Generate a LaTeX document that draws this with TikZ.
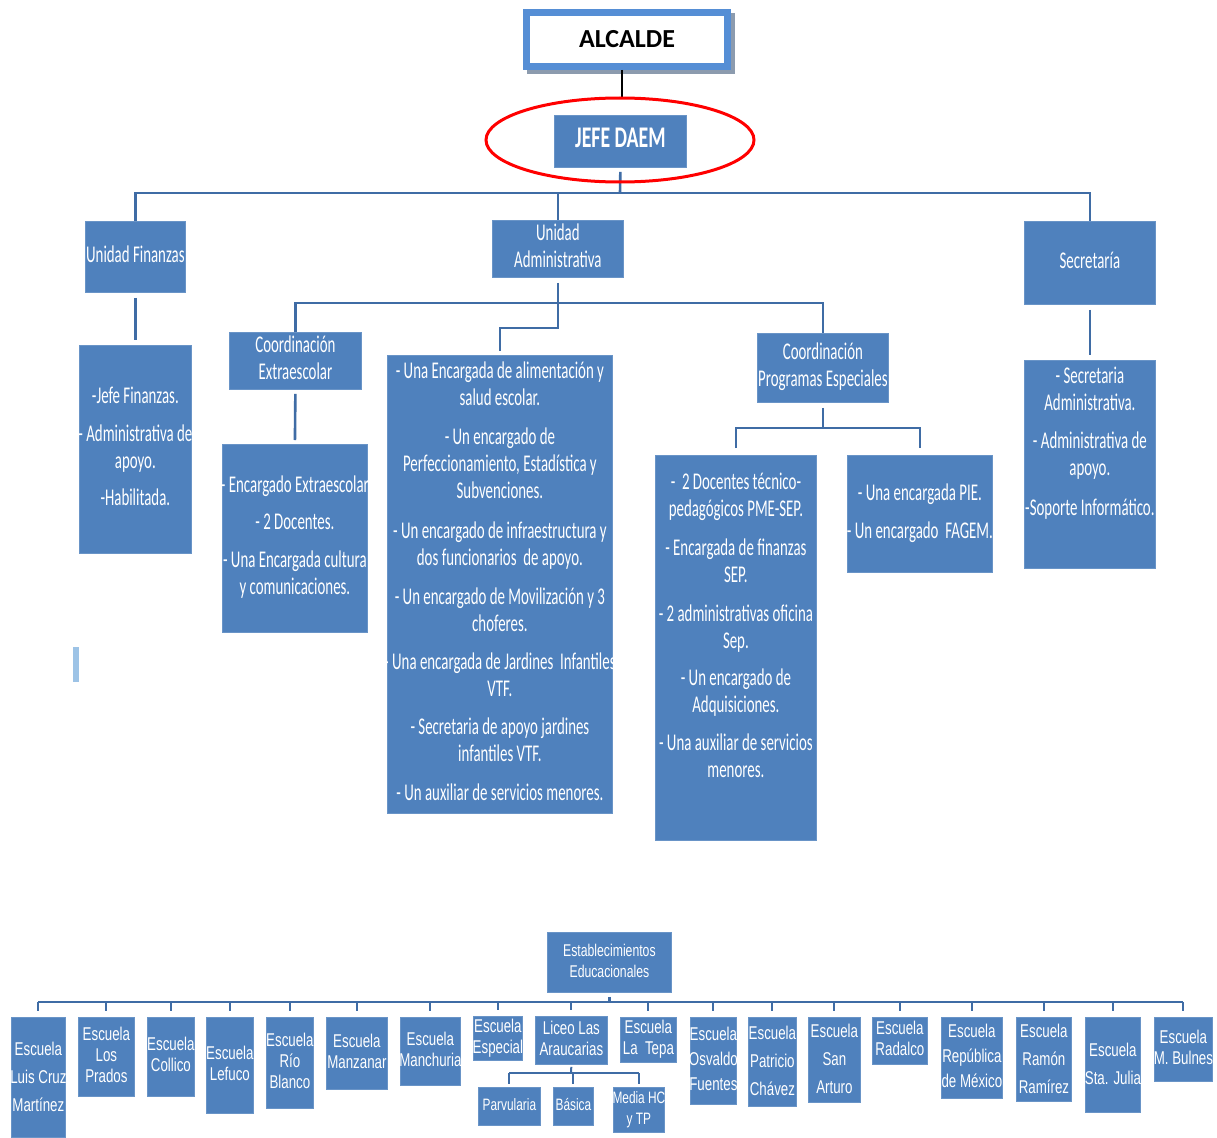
\documentclass[tikz,border=0pt]{standalone}
\usepackage{fontspec}
\usetikzlibrary{shapes.geometric}
\newfontfamily\calf[FakeStretch=0.62]{Carlito}
\newfontfamily\calj[FakeStretch=0.66]{Carlito}
\newfontfamily\calN{Carlito}
\newfontfamily\narf[FakeStretch=0.72]{Liberation Sans}
\definecolor{boxblue}{HTML}{4F81BD}
\definecolor{lineblue}{HTML}{3F6CA5}
\definecolor{alcblue}{HTML}{558ED5}
\definecolor{shadowgray}{HTML}{8C9BAE}
\definecolor{lightbar}{HTML}{9DC3E6}
\newcommand\ov[1]{\makebox[0pt]{\begin{tabular}{@{}c@{}}#1\end{tabular}}}
\begin{document}
\begin{tikzpicture}[x=1pt,y=-1pt,
  box/.style={fill=boxblue, draw=boxblue!85!white, line width=0.8pt, text=white,
    align=center, inner sep=0pt, anchor=north west,
    font=\calf\fontsize{24}{27}\selectfont},
  sch/.style={box, font=\narf\fontsize{18.5}{21}\selectfont},
  schw/.style={box, font=\narf\fontsize{18.5}{28}\selectfont},
  conn/.style={draw=lineblue, line width=2.6pt},
  conns/.style={draw=lineblue, line width=2pt}]
\useasboundingbox (0,0) rectangle (1217,1137);
\fill[white] (0,0) rectangle (1217,1137);

% ---- ALCALDE ----
\fill[shadowgray] (527,13) rectangle (735,74);
\node[draw=alcblue, line width=7pt, fill=white, minimum width=201, minimum height=54,
  inner sep=0pt, font=\calN\bfseries\fontsize{26}{28}\selectfont] (alc) at (627,39.5) {ALCALDE};

% ---- JEFE DAEM ----
\node[box, minimum width=132, minimum height=52,
  font=\calj\bfseries\fontsize{30}{30}\selectfont] (jefe) at (554,115) {\ov{JEFE DAEM}};

% ---- level 1 ----
\node[box, minimum width=100, minimum height=71] (uf) at (85,221) {\ov{Unidad Finanzas}};
\node[box, minimum width=131, minimum height=57] (ua) at (492,220) {\ov{Unidad\\Administrativa}};
\node[box, minimum width=131, minimum height=83] (sec) at (1024,221) {\ov{Secretaría}};

\node[box, minimum width=112, minimum height=208] (ufl) at (79,345)
  {\ov{-Jefe Finanzas.\\[11pt]- Administrativa de\\apoyo.\\[10pt]-Habilitada.}};
\node[box, minimum width=131, minimum height=208] (secl) at (1024,360)
  {\ov{- Secretaria\\Administrativa.\\[11pt]- Administrativa de\\apoyo.\\[13pt]-Soporte Informático.\\[13pt]~}};

% ---- level 2 ----
\node[box, minimum width=132, minimum height=57] (ce) at (229,332) {\ov{Coordinación\\Extraescolar}};
\node[box, minimum width=145, minimum height=188] (cel) at (222,444)
  {\ov{- Encargado Extraescolar\\[10pt]- 2 Docentes.\\[11pt]- Una Encargada cultura\\y comunicaciones.}};
\node[box, minimum width=225, minimum height=458] (bl) at (387,355)
  {\ov{- Una Encargada de alimentación y\\salud escolar.\\[12pt]
   - Un encargado de\\Perfeccionamiento, Estadística y\\Subvenciones.\\[13pt]
   - Un encargado de infraestructura y\\dos funcionarios~ de apoyo.\\[12pt]
   - Un encargado de Movilización y 3\\choferes.\\[11pt]
   - Una encargada de Jardines~ Infantiles\\VTF.\\[11pt]
   - Secretaria de apoyo jardines\\infantiles VTF.\\[12pt]
   - Un auxiliar de servicios menores.}};
\node[box, minimum width=131, minimum height=69] (cpe) at (757,333) {\ov{Coordinación\\Programas Especiales}};
\node[box, minimum width=161, minimum height=385] (pme) at (655,455)
  {\ov{-~ 2 Docentes técnico-\\pedagógicos PME-SEP.\\[12pt]
   - Encargada de finanzas\\SEP.\\[12pt]
   - 2 administrativas oficina\\Sep.\\[10pt]
   - Un encargado de\\Adquisiciones.\\[11pt]
   - Una auxiliar de servicios\\menores.\\[13pt]~}};
\node[box, minimum width=145, minimum height=117] (pie) at (847,455)
  {\ov{- Una encargada PIE.\\[11pt]- Un encargado~ FAGEM.}};

\fill[lightbar] (73,647) rectangle (79,682);

% ---- connectors top ----
\coordinate (bus1) at (620,193);
\coordinate (bus2) at (557,303);
\coordinate (bus3) at (823,428);
\draw[black, line width=1.6pt] ([xshift=-5pt]alc.south) -- ([xshift=-5pt]alc.south |- 0,97);
\draw[conn, shorten <=4pt] (jefe.south) -- (bus1);
\draw[conn] (uf.north) |- (bus1) -| (sec.north);
\draw[conn] (ua.north) -- (ua.north |- bus1);
\draw[conn, shorten <=5pt, shorten >=5pt] (uf.south) -- (ufl.north);
\draw[conn, shorten <=5pt, shorten >=5pt] (sec.south) -- (secl.north);
\draw[conn] (ce.north) |- (bus2) -| (cpe.north);
\draw[conn, shorten <=5pt, shorten >=4pt] (ua.south) -- ++(0,50) -| (bl.north);
\draw[conn, shorten <=4pt, shorten >=4pt] (ce.south) -- (cel.north);
\draw[conn, shorten <=5pt] (cpe.south) -- (cpe.south |- bus3);
\draw[conn, shorten <=7pt, shorten >=7pt] (pme.north) |- (bus3) -| (pie.north);

% ---- ellipse ----
\node[ellipse, draw=red, line width=3pt, minimum width=268, minimum height=84, inner sep=0pt] (ell) at (620,140) {};

% ---- Establecimientos ----
\node[sch, minimum width=124, minimum height=60, font=\narf\fontsize{17}{21}\selectfont] (est) at (547,932)
  {\ov{Establecimientos\\Educacionales}};

\node[schw, minimum width=54, minimum height=120] (lc) at (11,1017) {\ov{Escuela\\Luis Cruz\\Martínez}};
\node[sch, minimum width=56, minimum height=79] (lp) at (78,1017) {\ov{Escuela\\Los\\Prados}};
\node[sch, minimum width=47, minimum height=79] (col) at (147,1017) {\ov{Escuela\\Collico}};
\node[sch, minimum width=47, minimum height=96] (lef) at (206,1017) {\ov{Escuela\\Lefuco}};
\node[sch, minimum width=47, minimum height=91] (rio) at (266,1017) {\ov{Escuela\\Río\\Blanco}};
\node[sch, minimum width=61, minimum height=72] (man) at (326,1017) {\ov{Escuela\\Manzanar}};
\node[sch, minimum width=60, minimum height=68] (mch) at (400,1017) {\ov{Escuela\\Manchuria}};
\node[sch, minimum width=49, minimum height=44] (esp) at (473,1016) {\ov{Escuela\\Especial}};
\node[sch, minimum width=72, minimum height=48] (lic) at (535,1016) {\ov{Liceo Las\\Araucarias}};
\node[sch, minimum width=56, minimum height=45] (tep) at (620,1017) {\ov{Escuela\\La~ Tepa}};
\node[box, minimum width=46, minimum height=87, font=\narf\fontsize{18.5}{25}\selectfont] (osv) at (690,1017) {\ov{Escuela\\Osvaldo\\Fuentes}};
\node[schw, minimum width=48, minimum height=89] (pat) at (748,1017) {\ov{Escuela\\Patricio\\Chávez}};
\node[schw, minimum width=52, minimum height=85] (sar) at (808,1017) {\ov{Escuela\\San\\Arturo}};
\node[sch, minimum width=55, minimum height=47] (rad) at (872,1017) {\ov{Escuela\\Radalco}};
\node[box, minimum width=61, minimum height=81, font=\narf\fontsize{18.5}{25}\selectfont] (rep) at (941,1017) {\ov{Escuela\\República\\de México}};
\node[schw, minimum width=55, minimum height=83] (ram) at (1016,1017) {\ov{Escuela\\Ramón\\Ramírez}};
\node[schw, minimum width=55, minimum height=95] (stj) at (1085,1017) {\ov{Escuela\\Sta. Julia}};
\node[sch, minimum width=58, minimum height=64] (bul) at (1154,1017) {\ov{Escuela\\M. Bulnes}};

\node[sch, minimum width=62, minimum height=38, font=\narf\fontsize{16.5}{21}\selectfont] (par) at (478,1087) {\ov{Parvularia}};
\node[sch, minimum width=40, minimum height=38, font=\narf\fontsize{16.5}{21}\selectfont] (bas) at (553,1087) {\ov{Básica}};
\node[sch, minimum width=51, minimum height=45, font=\narf\fontsize{16.5}{21}\selectfont] (med) at (613,1087) {\ov{Media HC\\y TP}};

\coordinate (busS) at (600,1002);
\coordinate (busL) at (571,1073);
\draw[conn, shorten <=4pt] (est.south) -- (est.south |- busS);
\draw[conn] (lc.north |- busS) -- (bul.north |- busS);
\foreach \n in {lc,lp,col,lef,rio,man,mch,esp,lic,tep,osv,pat,sar,rad,rep,ram,stj,bul}
  \draw[conns, shorten >=6pt] (\n.north |- busS) -- (\n.north);
\draw[conns, shorten <=2pt] (lic.south) -- (busL);
\draw[conn] (par.north |- busL) -- (med.north |- busL);
\foreach \n in {par,bas,med}
  \draw[conns, shorten >=3pt] (\n.north |- busL) -- (\n.north);
\end{tikzpicture}
\end{document}
